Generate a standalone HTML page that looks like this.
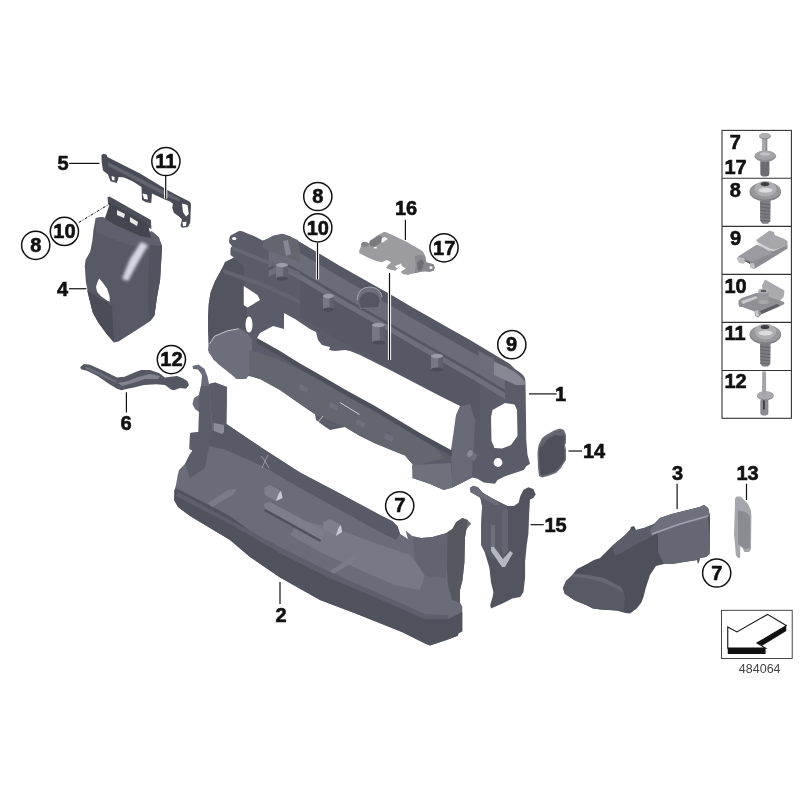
<!DOCTYPE html>
<html><head><meta charset="utf-8"><style>
html,body{margin:0;padding:0;background:#fff;width:800px;height:800px;overflow:hidden}
svg{display:block;will-change:transform}
</style></head><body><svg width="800" height="800" viewBox="0 0 800 800" font-family="Liberation Sans, sans-serif"><defs><filter id="b0" x="-50%" y="-50%" width="200%" height="200%"><feGaussianBlur stdDeviation="0.7"/></filter><filter id="b1" x="-50%" y="-50%" width="200%" height="200%"><feGaussianBlur stdDeviation="1.5"/></filter><filter id="b2" x="-50%" y="-50%" width="200%" height="200%"><feGaussianBlur stdDeviation="3"/></filter></defs><polygon points="192.50,366.00 198.50,364.50 204.50,369.00 207.50,376.50 209.00,384.00 215.00,382.50 227.00,387.00 226.50,424.00 262.00,448.00 300.00,472.50 340.00,493.50 380.00,515.00 392.50,521.25 397.50,526.25 400.00,533.75 408.00,539.00 405.60,530.60 412.50,536.25 421.25,538.10 432.50,536.90 441.25,534.40 447.50,533.10 451.90,533.75 452.50,528.75 456.25,521.90 462.50,518.10 467.50,520.00 471.25,523.75 468.75,526.25 466.25,530.00 465.00,537.50 464.40,562.50 462.50,580.00 460.00,590.00 460.00,602.75 462.25,606.50 462.25,631.25 458.50,633.50 457.75,635.75 448.00,639.50 430.00,645.50 425.00,643.50 402.50,632.25 380.00,623.25 357.50,614.25 320.00,600.00 280.00,577.50 250.00,557.00 230.00,540.00 220.00,534.00 205.00,525.00 190.00,516.00 178.00,507.00 174.00,500.00 174.50,490.00 176.00,485.00 177.50,476.00 179.00,470.00 185.00,464.00 189.50,455.00 192.50,450.50 189.50,449.00 190.00,433.00 198.50,432.00 199.00,412.00 195.00,409.00 192.50,404.00 194.00,398.00 199.00,395.00 201.00,386.00 202.00,375.00 198.00,369.50 193.00,369.00" fill="#6a6d79" /><polygon points="226.50,424.00 262.00,448.00 300.00,472.50 340.00,493.50 380.00,515.00 392.50,521.25 397.50,526.25 400.00,533.75 396.00,540.00 380.00,532.00 340.00,510.00 300.00,488.00 262.00,466.00 226.00,450.00 205.00,445.00 198.00,438.00" fill="#585b67" /><polygon points="300.00,520.00 340.00,530.00 380.00,545.00 410.00,555.00 425.00,575.00 420.00,590.00 395.00,585.00 360.00,570.00 320.00,552.00 290.00,535.00" fill="#777a86" /><polygon points="176.00,488.00 230.00,516.00 280.00,553.00 330.00,578.00 380.00,599.00 425.00,619.00 448.00,619.00 462.25,612.00 462.25,631.25 458.50,633.50 457.75,635.75 448.00,639.50 430.00,645.50 425.00,643.50 402.50,632.25 380.00,623.25 357.50,614.25 320.00,600.00 280.00,577.50 250.00,557.00 230.00,540.00 220.00,534.00 205.00,525.00 190.00,516.00 178.00,507.00 174.00,500.00 174.50,490.00" fill="#50535e" /><polygon points="209.00,384.00 215.00,382.50 227.00,387.00 226.25,424.50 224.00,430.50 213.50,427.50 212.00,420.00" fill="#5a5d69" /><polygon points="199.00,395.00 201.00,386.00 209.00,386.00 212.00,430.00 205.00,468.00 190.00,478.00 185.00,464.00 189.50,455.00 192.50,450.50 189.50,449.00 190.00,433.00 198.50,432.00 199.00,412.00" fill="#5b5e6a" /><polygon points="443.00,535.00 452.50,528.75 456.25,521.90 462.50,518.10 467.50,520.00 466.25,530.00 465.00,537.50 464.40,562.50 462.50,580.00 460.00,590.00 460.00,602.75 452.00,600.00 448.00,585.00 446.00,560.00" fill="#55585f" /><polygon points="412.50,536.25 421.25,538.10 432.50,536.90 441.25,534.40 447.50,533.10 447.00,560.00 446.00,578.00 425.00,576.00 415.00,560.00" fill="#626571" /><polygon points="213.50,423.00 224.00,425.00 224.00,432.00 222.00,434.00 214.00,431.00" fill="#8a8c98" /><polygon points="263.75,503.75 270.00,501.90 325.00,531.25 321.25,540.00 265.00,508.75" fill="#7c7f8b" /><polygon points="265.00,508.75 321.25,540.00 320.00,542.00 264.00,511.00" fill="#4f525d" /><polygon points="264.00,488.00 270.00,485.00 281.00,491.00 282.50,498.00 276.00,501.00 265.00,495.00" fill="#7e818d" /><polygon points="276.00,501.00 282.50,498.00 281.00,491.00 279.00,493.00 277.00,498.00" fill="#c9cbd3" /><polygon points="323.00,522.00 330.00,519.00 341.00,525.00 342.00,532.00 336.00,536.00 324.00,529.00" fill="#7e818d" /><polygon points="336.00,536.00 342.00,532.00 341.00,525.00 339.00,527.00 337.00,532.00" fill="#c9cbd3" /><polygon points="208.00,503.00 228.00,490.00 236.00,489.00 234.00,494.00 212.00,507.00" fill="#7a7d89" /><polygon points="330.00,571.00 350.00,558.00 356.00,557.00 354.00,562.00 333.00,574.00" fill="#7a7d89" /><path d="M261,456 L265,461 L262,468 M268,455 L265,461 L269,468" stroke="#a4a6b0" stroke-width="0.8" fill="none"/><polygon points="178.00,492.00 230.00,520.00 280.00,547.00 330.00,572.00 380.00,594.00 425.00,614.00 448.00,615.00 448.00,619.00 425.00,619.00 380.00,599.00 330.00,578.00 280.00,553.00 230.00,524.00 176.00,496.00" fill="#5d606c" /><polygon points="229.50,237.50 230.50,235.50 239.00,231.00 241.50,231.00 255.00,236.50 262.50,240.60 268.75,238.75 275.00,235.60 282.50,233.75 290.00,236.25 300.00,242.00 340.00,266.00 391.50,295.00 410.00,306.00 450.00,328.80 470.00,339.90 480.00,346.00 505.00,361.00 510.00,364.00 515.00,369.00 520.00,372.50 523.00,375.00 525.00,378.50 525.50,382.50 525.75,400.00 526.25,440.00 527.50,455.00 530.00,463.75 526.25,466.25 523.75,470.00 520.00,471.25 505.00,476.25 497.50,480.00 495.00,483.75 483.75,482.50 477.50,478.75 472.50,477.50 465.00,481.25 452.50,487.50 443.75,490.00 430.00,484.00 412.50,478.00 414.00,466.00 405.00,455.50 390.00,449.50 375.00,443.50 360.00,436.00 345.00,427.00 340.00,428.00 330.00,430.00 324.00,426.00 316.00,420.00 315.00,414.00 300.00,404.00 280.00,390.00 260.00,379.00 249.50,376.00 243.50,377.00 236.00,378.75 230.00,372.00 213.75,360.00 209.40,352.50 208.10,350.00 208.75,345.00 208.10,328.75 208.10,316.25 208.75,303.75 210.60,292.50 215.00,281.25 221.25,270.00 224.50,265.00 227.50,261.00 234.00,257.50 230.50,255.00 230.50,248.50 232.00,246.00 229.00,242.50" fill="#5a5d69" /><polygon points="268.75,239.25 275.00,236.10 282.50,234.25 290.00,236.75 300.00,242.50 340.00,266.50 391.50,295.50 410.00,306.50 450.00,329.30 470.00,340.40 480.00,346.50 505.00,361.50 505.00,372.00 480.00,357.00 470.00,350.90 450.00,339.80 410.00,317.00 391.50,306.00 340.00,277.00 300.00,253.00 290.00,247.25 282.50,244.75 275.00,246.60 268.75,249.75" fill="#565965" /><polygon points="268.75,249.75 275.00,246.60 282.50,244.75 290.00,247.25 300.00,253.00 340.00,277.00 391.50,306.00 410.00,317.00 450.00,339.80 470.00,350.90 480.00,357.00 505.00,372.00 505.00,390.00 480.00,375.00 470.00,368.90 450.00,357.80 410.00,335.00 391.50,324.00 340.00,295.00 300.00,271.00 290.00,265.25 282.50,262.75 275.00,264.60 268.75,267.75" fill="#6a6d79" /><polygon points="268.75,267.75 275.00,264.60 282.50,262.75 290.00,265.25 300.00,271.00 340.00,295.00 391.50,324.00 410.00,335.00 450.00,357.80 470.00,368.90 480.00,375.00 505.00,390.00 505.00,393.00 480.00,378.00 470.00,371.90 450.00,360.80 410.00,338.00 391.50,327.00 340.00,298.00 300.00,274.00 290.00,268.25 282.50,265.75 275.00,267.60 268.75,270.75" fill="#555864" /><polygon points="268.75,270.75 275.00,267.60 282.50,265.75 290.00,268.25 300.00,274.00 340.00,298.00 391.50,327.00 410.00,338.00 450.00,360.80 470.00,371.90 480.00,378.00 505.00,393.00 505.00,399.00 480.00,384.00 470.00,377.90 450.00,366.80 410.00,344.00 391.50,333.00 340.00,304.00 300.00,280.00 290.00,274.25 282.50,271.75 275.00,273.60 268.75,276.75" fill="#6d707c" /><polygon points="300.00,280.00 340.00,304.00 391.50,333.00 410.00,344.00 450.00,366.80 470.00,377.90 480.00,384.00 480.00,421.00 470.00,414.90 450.00,403.80 410.00,381.00 391.50,370.00 340.00,341.00 300.00,317.00" fill="#565965" /><polygon points="478.00,351.00 494.00,359.00 496.00,375.00 480.00,368.00" fill="#6c6f7b" /><polygon points="494.00,361.50 505.00,366.50 515.00,372.00 521.00,377.00 525.00,382.00 524.50,385.00 516.00,385.00 494.00,375.00" fill="#868894" /><polygon points="208.75,345.00 214.40,335.60 227.50,330.00 238.75,328.00 248.00,334.00 252.00,340.00 252.00,371.00 246.00,379.00 237.00,379.00 218.00,364.00 208.75,352.60" fill="#6c6f7b" /><polygon points="249.00,350.00 275.00,358.00 300.00,370.00 345.00,392.00 375.00,410.00 405.00,428.00 430.00,442.00 445.00,458.00 414.00,466.00 405.00,455.50 390.00,449.50 360.00,436.00 345.00,427.00 316.00,415.00 300.00,404.00 280.00,390.00 260.00,379.00 249.50,376.00" fill="#63666f" /><polygon points="460.00,406.00 470.00,404.00 475.00,420.00 472.00,476.00 465.00,481.25 452.50,487.50 452.00,470.00 451.00,452.50 452.50,435.00 456.00,415.00" fill="#686b77" /><polygon points="412.00,465.00 451.00,463.00 452.50,487.50 443.75,490.00 430.00,484.00 412.50,478.00" fill="#6e717c" /><polygon points="263.00,240.90 273.50,235.60 282.25,233.90 298.00,240.00 300.00,250.00 300.00,262.00 280.50,254.90 270.00,251.40 263.00,247.90" fill="#63666f" /><polygon points="283.00,241.00 288.00,240.00 291.00,254.00 286.00,256.00" fill="#858894" /><polygon points="232.00,246.00 262.00,258.00 300.00,272.00 300.00,276.00 262.00,262.00 232.00,250.00" fill="#666975" /><polygon points="225.00,262.00 234.00,258.00 244.00,266.00 244.00,286.00 243.75,305.00 247.00,309.00 247.00,330.00 238.75,328.00 227.50,330.00 214.40,335.60 208.75,345.00 208.10,328.75 208.10,316.25 208.75,303.75 210.60,292.50 215.00,281.25 221.25,270.00" fill="#52555f" /><polygon points="223.00,269.00 262.00,282.00 300.00,300.00 300.00,304.00 262.00,287.00 223.00,273.00" fill="#62656f" /><rect x="276" y="265" width="12" height="14" fill="#767985"/><rect x="283.2" y="265" width="4.800000000000001" height="14" fill="#5f626e"/><ellipse cx="282.0" cy="278.5" rx="6.0" ry="2" fill="#4a4d57"/><ellipse cx="282.0" cy="265" rx="6.0" ry="2.2" fill="#9a9ca7"/><rect x="323" y="296" width="11" height="14" fill="#767985"/><rect x="329.6" y="296" width="4.4" height="14" fill="#5f626e"/><ellipse cx="328.5" cy="309.5" rx="5.5" ry="2" fill="#4a4d57"/><ellipse cx="328.5" cy="296" rx="5.5" ry="2.2" fill="#9a9ca7"/><rect x="372" y="325" width="13" height="18" fill="#767985"/><rect x="379.8" y="325" width="5.2" height="18" fill="#5f626e"/><ellipse cx="378.5" cy="342.5" rx="6.5" ry="2" fill="#4a4d57"/><ellipse cx="378.5" cy="325" rx="6.5" ry="2.2" fill="#9a9ca7"/><rect x="431" y="356" width="12" height="14" fill="#767985"/><rect x="438.2" y="356" width="4.800000000000001" height="14" fill="#5f626e"/><ellipse cx="437.0" cy="369.5" rx="6.0" ry="2" fill="#4a4d57"/><ellipse cx="437.0" cy="356" rx="6.0" ry="2.2" fill="#9a9ca7"/><path d="M357,300 Q358,287 370,287 Q381,288 382,297 L380,308 L360,309 Z" fill="#6e717d"/><path d="M359,302 Q360,292 370,292 Q379,293 380,301 L378,307 L361,308 Z" fill="#545763"/><path d="M357,300 Q358,287 370,287 Q381,288 382,297" fill="none" stroke="#b0b2bb" stroke-width="0.8"/><polygon points="257.00,337.00 280.00,350.00 300.00,362.50 315.00,371.00 345.00,388.50 375.00,405.00 405.00,423.00 420.00,432.00 452.00,450.00 452.00,456.50 420.00,438.50 405.00,429.50 375.00,411.50 345.00,395.00 315.00,377.50 300.00,369.00 280.00,356.50 257.00,343.50" fill="#4d505b" /><line x1="340" y1="402.5" x2="359.5" y2="414.5" stroke="#d8dae2" stroke-width="0.9"/><line x1="318" y1="422" x2="323" y2="416" stroke="#c8cad2" stroke-width="0.9"/><polygon points="300.00,384.00 308.00,388.00 307.00,393.00 299.00,389.00" fill="#6e717d" /><polygon points="330.00,402.00 338.00,406.00 337.00,411.00 329.00,407.00" fill="#6e717d" /><polygon points="357.00,419.00 365.00,423.00 364.00,428.00 356.00,424.00" fill="#6e717d" /><polygon points="385.00,433.00 393.00,437.00 392.00,442.00 384.00,438.00" fill="#6e717d" /><polygon points="257.00,338.00 260.00,333.00 273.00,326.00 284.00,329.00 284.00,313.00 295.00,319.00 310.00,329.00 316.00,332.00 318.00,340.00 322.00,345.00 330.00,347.00 329.00,350.00 335.00,351.00 345.00,350.00 350.00,351.00 360.00,355.00 370.00,360.00 380.00,365.00 390.00,370.00 415.00,383.00 440.00,396.00 460.00,406.00 456.00,415.00 452.50,440.00 451.00,450.00 420.00,433.00 405.00,424.00 375.00,406.00 345.00,389.50 315.00,372.00 300.00,363.50 280.00,351.00" fill="#fff" /><polygon points="243.75,286.00 257.50,295.00 260.00,300.00 247.50,307.50 243.75,305.00" fill="#fff" /><polygon points="492.50,410.00 505.00,403.00 514.50,404.50 517.00,410.00 517.50,436.00 511.00,445.00 502.00,448.50 494.50,448.00 491.50,441.00 491.00,417.50" fill="#fff" /><polyline points="209.5,344 214.6,336.2 227.5,330.8 238.5,328.8" fill="none" stroke="#c4c6d0" stroke-width="1"/><rect x="468" y="452" width="9" height="7" fill="#6e717d" transform="rotate(30 472 455)"/><ellipse cx="470" cy="453.5" rx="2.5" ry="3.5" fill="#8a8d99" transform="rotate(30 470 453.5)"/><ellipse cx="249" cy="324.5" rx="3.5" ry="8" fill="#fff"/><circle cx="498" cy="462.5" r="4.4" fill="#fff"/><ellipse cx="234.2" cy="238.5" rx="2.2" ry="1.6" fill="#fff"/><polygon points="95.75,218.00 102.50,217.00 113.75,221.50 140.75,232.75 152.00,231.60 158.75,237.25 162.10,246.25 161.00,265.00 160.10,280.00 156.75,298.75 154.50,315.60 150.00,321.25 134.25,331.40 118.50,341.50 114.00,342.60 107.25,334.75 98.25,322.40 92.60,312.25 89.25,298.75 85.90,281.90 84.75,265.00 84.50,268.75 85.60,259.75 90.10,251.90 92.40,240.60 93.50,229.40" fill="#575a66" /><polygon points="95.75,218.00 102.50,217.00 113.75,221.50 140.75,232.75 152.00,231.60 158.75,237.25 162.10,246.25 150.00,250.00 130.00,245.00 110.00,238.00 96.00,232.00" fill="#5e616d" /><polygon points="150.00,245.00 162.10,246.25 161.00,265.00 160.10,280.00 156.75,298.75 154.50,315.60 150.00,321.25 148.00,300.00 149.00,270.00" fill="#51545f" /><polygon points="87.00,290.00 97.00,297.00 107.00,302.00 112.00,306.00 114.00,342.60 107.25,334.75 98.25,322.40 92.60,312.25 89.25,298.75" fill="#4a4d57" /><polygon points="107.60,197.30 109.50,196.50 150.90,220.00 151.40,229.00 147.00,227.00 108.00,204.00" fill="#4c4f59" /><polygon points="110.00,203.00 148.00,224.00 151.00,238.00 140.00,236.00 113.00,224.00 105.00,218.00" fill="#44464f" /><polygon points="99.20,278.60 102.60,282.40 107.00,288.60 109.50,296.10 109.80,301.75 107.00,300.50 100.75,296.10 97.00,291.75 96.00,286.75 97.60,281.75" fill="#fff" /><polygon points="141.00,242.00 148.00,245.00 136.00,266.00 128.00,281.00 122.00,279.00 130.00,259.00" fill="#d4d6e2" filter="url(#b1)"/><polygon points="117.00,210.00 125.00,214.00 124.00,218.00 117.00,215.00" fill="#e8e8ea" /><polygon points="130.00,217.00 138.00,222.00 137.00,226.00 130.00,222.00" fill="#e8e8ea" /><polygon points="101.40,155.00 103.60,153.75 106.75,154.70 107.40,156.90 140.00,173.40 167.75,190.25 177.50,195.50 189.50,201.50 191.00,203.75 190.25,222.50 188.00,227.00 182.00,227.75 180.50,225.50 182.00,219.50 179.00,216.50 173.75,212.75 172.25,207.50 173.00,203.75 170.00,201.50 164.75,199.50 152.00,193.50 151.25,203.00 146.00,202.25 142.00,200.00 141.50,187.00 133.00,181.60 124.25,177.50 118.60,177.00 118.00,179.40 116.75,183.10 110.50,181.25 109.25,178.00 108.00,174.40 103.00,170.60 101.75,162.50" fill="#494c56" /><polygon points="108.00,162.00 140.00,178.50 168.00,193.00 180.00,199.00 179.00,201.50 166.00,196.00 139.00,182.00 108.00,166.00" fill="#62656f" /><polygon points="182.00,203.50 187.50,205.00 188.75,214.00 186.00,216.50 183.00,212.00" fill="#fff" /><polygon points="182.50,222.00 186.50,221.75 186.00,226.00 183.00,226.30" fill="#fff" /><polygon points="142.50,193.50 147.00,194.50 148.00,199.50 144.00,199.00" fill="#fff" /><polygon points="111.50,176.00 114.50,177.00 114.50,180.50 112.00,180.00" fill="#fff" /><polygon points="80.25,367.00 84.00,364.00 90.00,364.75 105.00,371.50 117.00,377.50 124.50,376.75 135.00,372.25 141.00,370.00 150.00,370.00 159.00,373.00 165.00,377.50 177.00,376.00 183.00,378.25 187.50,381.25 189.00,385.00 186.00,388.75 180.00,388.00 174.00,390.25 171.00,389.50 165.00,385.00 156.00,384.25 144.00,385.00 135.00,387.25 127.50,388.75 121.50,390.25 117.00,388.75 109.50,384.25 97.50,376.00 87.00,370.75 81.00,369.25" fill="#555862" /><polygon points="86.00,366.50 100.00,372.50 117.00,381.00 116.00,383.00 99.00,375.00 85.00,368.50" fill="#6a6d78" /><polygon points="118.00,383.00 128.00,381.00 138.00,377.00 150.00,374.00 160.00,376.00 158.00,379.00 145.00,379.00 133.00,383.00 122.00,386.00" fill="#80838f" /><polygon points="359.25,250.50 361.40,245.20 364.60,242.50 370.00,243.60 371.00,241.00 376.25,236.20 383.70,231.90 385.80,231.90 405.00,241.00 414.50,246.25 423.00,251.50 425.10,255.80 426.20,262.20 429.40,263.25 433.60,264.30 434.70,267.50 433.60,270.70 429.40,271.75 425.10,271.20 420.90,271.75 414.50,273.35 410.30,273.90 408.10,275.00 402.80,273.90 400.70,271.75 406.00,268.60 400.70,265.40 395.40,270.70 387.90,269.10 385.80,267.50 391.10,262.20 386.90,260.10 381.60,262.20 376.25,261.10 368.80,257.90 362.40,254.75 359.25,253.20" fill="#9b9ba0" /><ellipse cx="364.8" cy="244.3" rx="3.8" ry="2.6" fill="#85858b"/><polygon points="369.75,240.65 379.10,235.15 382.40,237.35 381.30,242.30 374.70,246.70 370.85,246.15 369.20,244.50" fill="#7a7a80" /><polygon points="381.85,237.90 385.15,237.10 387.90,239.00 382.40,242.85 381.30,242.30" fill="#f2f2f2" /><polygon points="373.60,247.25 376.90,246.80 376.50,248.40 373.80,248.60" fill="#f2f2f2" /><polygon points="414.50,256.00 421.00,254.75 425.00,255.80 426.20,262.20 429.40,263.25 433.60,264.30 434.70,267.50 433.60,270.70 429.40,271.75 425.10,271.20 420.90,271.75 414.50,273.35 416.00,265.00" fill="#88888e" /><polygon points="417.00,263.00 421.00,259.00 424.00,262.00 422.00,270.00 418.00,271.00" fill="#6e6e74" /><circle cx="431" cy="267.6" r="1.5" fill="#f0f0f0"/><polygon points="395.00,266.00 401.00,263.50 402.00,265.50 396.50,268.50" fill="#f2f2f2" /><polygon points="539.00,444.00 542.00,438.00 546.00,435.00 555.00,430.00 560.00,428.50 564.00,430.00 566.00,435.00 566.00,443.00 565.00,445.00 566.00,450.00 566.00,460.00 564.00,463.00 561.00,468.00 556.00,473.00 548.00,476.00 542.00,477.50 539.00,476.00 538.00,468.00 537.50,453.00 538.00,448.00" fill="#6a6d78" /><polygon points="540.50,446.00 543.50,440.00 547.00,437.50 555.50,432.50 560.00,431.00 563.00,432.50 564.50,436.00 564.50,443.00 563.50,445.50 564.50,450.00 564.50,459.50 562.50,462.50 559.50,467.00 555.00,471.50 548.00,474.00 542.50,475.50 540.50,474.00 539.50,467.00 539.00,453.00 539.50,448.00" fill="#4d505a" /><polygon points="540.00,446.00 543.00,440.00 547.00,437.00 556.00,432.00 561.00,431.00 564.00,433.00 563.00,436.00 555.00,435.00 547.00,440.00 542.00,447.00" fill="#61646f" /><polygon points="469.90,488.10 473.10,485.70 478.00,487.30 482.90,493.00 494.25,499.50 502.40,503.60 507.25,506.00 513.75,506.00 518.60,502.75 520.25,496.25 523.50,489.75 528.40,487.30 533.25,488.90 535.70,494.60 533.25,497.90 530.00,499.50 529.20,512.50 528.40,533.60 526.75,545.00 525.10,561.25 525.10,577.50 523.50,592.10 520.25,597.00 512.10,598.60 502.40,603.50 491.00,608.40 490.20,605.10 492.60,597.00 493.40,592.10 491.00,582.40 489.40,567.75 484.50,551.50 481.25,545.00 481.25,525.50 482.10,506.00 480.40,497.90 474.75,494.60 470.70,492.20" fill="#52555f" /><polygon points="482.90,493.00 494.25,499.50 502.40,503.60 507.25,506.00 505.00,540.00 500.00,555.00 492.00,560.00 484.50,551.50 481.25,545.00 481.25,525.50 482.10,506.00 480.40,497.90" fill="#5b5e6a" /><polygon points="469.90,488.10 473.10,485.70 478.00,487.30 482.90,493.00 494.25,499.50 500.00,505.00 495.00,505.00 482.00,498.00 474.75,494.60 470.70,492.20" fill="#6a6d79" /><polygon points="491.00,525.00 495.00,525.00 495.00,547.00 491.00,547.00" fill="#6e717d" /><polygon points="502.00,510.00 508.00,510.00 508.00,551.00 503.00,558.00 502.00,550.00" fill="#62656f" /><polygon points="491.00,547.00 494.00,547.00 503.00,559.00 510.00,551.00 513.00,553.00 505.00,567.00 502.00,567.00 491.00,551.00" fill="#b4b6c0" filter="url(#b0)"/><polygon points="563.00,588.00 566.00,581.00 572.60,574.60 577.00,569.00 586.00,564.50 594.00,560.00 600.00,558.00 612.00,546.00 624.00,536.00 630.00,530.00 631.00,527.00 634.00,526.00 636.00,530.00 644.00,528.00 654.00,524.00 660.00,518.00 672.00,514.00 688.00,510.00 700.00,507.00 704.00,505.00 708.00,508.00 710.00,516.00 710.00,540.00 709.60,554.00 706.00,557.00 700.00,558.00 699.00,562.00 698.00,564.00 697.00,560.00 684.00,562.00 672.00,564.00 664.00,564.00 656.00,566.00 650.00,575.00 645.75,588.00 643.50,597.00 641.25,602.75 636.70,608.40 630.00,613.40 625.50,612.90 616.50,610.60 608.60,610.00 600.75,609.50 593.00,608.40 586.00,605.00 574.90,600.50 564.75,593.75" fill="#4d505a" /><polygon points="612.00,546.00 624.00,536.00 630.00,530.00 636.00,530.00 644.00,528.00 654.00,524.00 660.00,518.00 672.00,514.00 688.00,510.00 700.00,507.00 704.00,505.00 708.00,508.00 710.00,516.00 700.00,520.00 680.00,526.00 660.00,532.00 645.00,540.00 630.00,548.00 615.00,556.00" fill="#5b5e6a" /><polygon points="658.00,532.00 708.00,516.00 710.00,540.00 709.60,554.00 706.00,557.00 700.00,558.00 697.00,560.00 684.00,562.00 672.00,564.00 664.00,564.00 658.00,552.00" fill="#656874" /><polygon points="650.00,530.00 660.00,518.00 672.00,514.00 688.00,510.00 700.00,507.00 704.00,505.00 708.00,508.00 710.00,516.00 700.00,520.00 680.00,525.00 660.00,532.00 652.00,536.00" fill="#6e717d" /><polygon points="573.00,575.00 586.00,576.00 602.00,580.00 620.00,588.00 625.00,596.00 624.00,610.00 616.50,610.60 608.60,610.00 600.75,609.50 593.00,608.40 586.00,605.00 574.90,600.50 564.75,593.75 563.00,588.00 566.00,581.00" fill="#575a65" /><polygon points="573.00,574.00 586.00,574.50 604.00,578.00 621.00,587.00 624.00,593.00 618.00,589.00 602.00,582.00 586.00,578.00 573.00,577.00" fill="#656873" /><polyline points="652,534 680,524 708,516" fill="none" stroke="#9fa1b0" stroke-width="1.6" filter="url(#b0)"/><polygon points="735.00,498.40 736.90,496.60 740.60,496.60 748.10,504.00 751.00,510.60 751.40,516.25 751.00,549.00 749.00,551.90 744.40,551.90 742.50,548.10 740.20,546.25 740.20,557.50 738.75,558.40 735.90,555.60 735.00,544.40 734.00,535.00 734.50,518.10 735.00,504.00" fill="#a6a7ac" /><polygon points="737.80,510.60 746.00,512.00 750.00,516.00 750.00,548.00 745.00,549.00 738.00,544.00" fill="#8b8c92" /><rect x="722" y="130.4" width="69.4" height="287.9" fill="none" stroke="#333" stroke-width="1.1"/><line x1="722" y1="178.3" x2="791.4" y2="178.3" stroke="#333" stroke-width="1.1"/><line x1="722" y1="226.4" x2="791.4" y2="226.4" stroke="#333" stroke-width="1.1"/><line x1="722" y1="274.4" x2="791.4" y2="274.4" stroke="#333" stroke-width="1.1"/><line x1="722" y1="322.4" x2="791.4" y2="322.4" stroke="#333" stroke-width="1.1"/><line x1="722" y1="370.5" x2="791.4" y2="370.5" stroke="#333" stroke-width="1.1"/><rect x="760.3" y="159" width="9.1" height="17.5" rx="3.5" fill="#6c6c72"/><rect x="761.9" y="138" width="5.3" height="16" fill="#a8a8ad"/><rect x="765.5" y="138" width="1.7" height="16" fill="#8a8a90"/><ellipse cx="765.3" cy="156.3" rx="10.8" ry="5.6" fill="#8e8e93"/><ellipse cx="765.3" cy="155.2" rx="10.2" ry="4.6" fill="#a3a3a8"/><ellipse cx="765" cy="154" rx="5" ry="1.6" fill="#c5c5c9"/><ellipse cx="765" cy="136.2" rx="5.9" ry="3.2" fill="#8f8f94"/><ellipse cx="765" cy="135.6" rx="5.6" ry="2.6" fill="#b0b0b4"/><path d="M760,200.7 L770.6,200.7 L770.3,220.7 L768,223.7 L762.5,223.7 L760.2,220.7 Z" fill="#7c7c82"/><line x1="760.3" y1="203.7" x2="770.3" y2="204.89999999999998" stroke="#5e5e64" stroke-width="0.8"/><line x1="760.3" y1="207.0" x2="770.3" y2="208.2" stroke="#5e5e64" stroke-width="0.8"/><line x1="760.3" y1="210.29999999999998" x2="770.3" y2="211.49999999999997" stroke="#5e5e64" stroke-width="0.8"/><line x1="760.3" y1="213.6" x2="770.3" y2="214.79999999999998" stroke="#5e5e64" stroke-width="0.8"/><line x1="760.3" y1="216.89999999999998" x2="770.3" y2="218.09999999999997" stroke="#5e5e64" stroke-width="0.8"/><line x1="760.3" y1="220.2" x2="770.3" y2="221.39999999999998" stroke="#5e5e64" stroke-width="0.8"/><ellipse cx="765.3" cy="191.7" rx="15.8" ry="9.6" fill="#7e7e84"/><ellipse cx="765.3" cy="190.89999999999998" rx="15.2" ry="8.6" fill="#97979c"/><ellipse cx="765.5" cy="188.7" rx="10.8" ry="7.8" fill="#aeaeb3"/><ellipse cx="765.5" cy="190.2" rx="7" ry="2.5" fill="#dcdcdf"/><ellipse cx="765" cy="184.1" rx="4.4" ry="2.1" fill="#3e3e42"/><path d="M760,343.6 L770.6,343.6 L770.3,363.6 L768,366.6 L762.5,366.6 L760.2,363.6 Z" fill="#7c7c82"/><line x1="760.3" y1="346.6" x2="770.3" y2="347.8" stroke="#5e5e64" stroke-width="0.8"/><line x1="760.3" y1="349.90000000000003" x2="770.3" y2="351.1" stroke="#5e5e64" stroke-width="0.8"/><line x1="760.3" y1="353.20000000000005" x2="770.3" y2="354.40000000000003" stroke="#5e5e64" stroke-width="0.8"/><line x1="760.3" y1="356.5" x2="770.3" y2="357.7" stroke="#5e5e64" stroke-width="0.8"/><line x1="760.3" y1="359.8" x2="770.3" y2="361.0" stroke="#5e5e64" stroke-width="0.8"/><line x1="760.3" y1="363.1" x2="770.3" y2="364.3" stroke="#5e5e64" stroke-width="0.8"/><ellipse cx="765.3" cy="334.6" rx="15.8" ry="9.6" fill="#7e7e84"/><ellipse cx="765.3" cy="333.8" rx="15.2" ry="8.6" fill="#97979c"/><ellipse cx="765.5" cy="331.6" rx="10.8" ry="7.8" fill="#aeaeb3"/><ellipse cx="765.5" cy="333.1" rx="7" ry="2.5" fill="#dcdcdf"/><ellipse cx="765" cy="327.0" rx="4.4" ry="2.1" fill="#3e3e42"/><polygon points="738.00,256.75 756.75,244.75 768.00,249.25 774.00,250.75 787.50,244.75 787.50,248.50 769.50,259.75 754.50,268.75 750.75,268.00 750.00,263.50 745.50,261.25 743.25,263.50 739.50,262.75 737.25,259.00" fill="#8c8c92" /><polygon points="738.00,256.75 756.75,244.75 768.00,249.25 774.00,250.75 770.00,254.00 752.00,262.00 744.00,258.00" fill="#9a9aa0" /><polygon points="756.00,240.25 769.50,230.50 774.00,232.00 774.75,235.00 780.00,237.25 783.75,238.75 787.50,241.00 787.50,245.50 774.00,250.00 769.50,250.00 758.25,242.50" fill="#a6a6ab" /><polygon points="758.00,242.00 770.00,248.50 774.00,249.50 774.00,251.00 768.00,250.50 757.00,243.50" fill="#d0d0d4" /><polygon points="738.00,257.00 744.00,258.00 745.50,261.25 743.25,263.50 739.50,262.75 737.25,259.00" fill="#c0c0c4" /><polygon points="750.00,263.50 754.00,263.00 755.00,268.00 750.75,268.00" fill="#c0c0c4" /><polygon points="743.50,260.00 750.00,262.00 750.00,264.00 745.50,261.50" fill="#555559" /><polygon points="762.00,285.25 765.00,279.60 784.50,290.50 783.75,296.50 780.00,301.00 774.00,302.50 763.50,296.50" fill="#a9a9ae" /><polygon points="738.75,300.25 741.75,298.00 756.75,292.75 774.00,298.75 783.75,301.75 784.50,304.00 777.00,307.75 762.00,313.75 758.25,317.50 755.25,316.00 754.50,311.50 742.50,307.00 739.50,307.00 738.40,304.00" fill="#8f8f95" /><polygon points="741.00,301.00 756.00,296.00 758.00,298.00 743.00,304.00" fill="#c8c8cc" /><polygon points="755.00,311.00 758.00,310.00 759.00,316.00 756.00,316.50" fill="#c8c8cc" /><polygon points="760.00,311.00 777.00,304.00 780.00,305.50 762.00,314.00" fill="#5c5c62" /><rect x="758.3" y="291" width="10.4" height="11" fill="#97979c"/><ellipse cx="763.5" cy="302" rx="5.2" ry="2" fill="#a7a7ac"/><ellipse cx="763.5" cy="291" rx="5.2" ry="2.4" fill="#b4b4b8"/><ellipse cx="763.5" cy="291" rx="3" ry="1.3" fill="#5a5a5f"/><rect x="760.3" y="398.5" width="8.1" height="17" rx="3" fill="#8a8a90"/><rect x="763" y="400" width="1.8" height="9.5" fill="#3e3e42"/><rect x="762.2" y="371.5" width="3.9" height="23" fill="#a2a2a7"/><ellipse cx="765.4" cy="395.8" rx="8.45" ry="4.6" fill="#8e8e94"/><ellipse cx="765.4" cy="395.2" rx="8" ry="3.8" fill="#aaaaaf"/><rect x="762.4" y="385" width="3.5" height="10" fill="#a2a2a7"/><rect x="721.5" y="610.3" width="70.7" height="48.2" fill="none" stroke="#333" stroke-width="0.9"/><polygon points="727.75,626.90 736.90,631.90 767.50,614.40 786.25,625.60 756.90,643.10 765.60,648.10 727.75,648.10" fill="#fff" stroke="#111" stroke-width="1.1" stroke-linejoin="miter"/><polygon points="727.75,648.10 765.60,648.10 765.60,654.00 727.75,654.00" fill="#111" /><polygon points="756.90,643.10 786.25,625.60 786.25,631.00 762.50,645.50" fill="#111" /><line x1="69.1" y1="163.4" x2="99.5" y2="163.4" stroke="#111" stroke-width="1.2"/><line x1="69.1" y1="288.75" x2="86.5" y2="288.75" stroke="#111" stroke-width="1.2"/><line x1="126.4" y1="392.2" x2="126.4" y2="412.5" stroke="#111" stroke-width="1.2"/><line x1="317.5" y1="243" x2="317.5" y2="279.5" stroke="#fff" stroke-width="3.2"/><line x1="317.5" y1="243" x2="317.5" y2="279.5" stroke="#111" stroke-width="1.2"/><line x1="405.4" y1="219.7" x2="405.4" y2="240" stroke="#111" stroke-width="1.2"/><line x1="389.5" y1="273" x2="389.5" y2="360" stroke="#fff" stroke-width="3.2"/><line x1="389.5" y1="273" x2="389.5" y2="360" stroke="#111" stroke-width="1.2"/><line x1="529" y1="393.9" x2="556.6" y2="393.9" stroke="#111" stroke-width="1.2"/><line x1="568.5" y1="451" x2="582" y2="451" stroke="#111" stroke-width="1.2"/><line x1="530.6" y1="524.7" x2="543.75" y2="524.7" stroke="#111" stroke-width="1.2"/><line x1="280" y1="582" x2="280" y2="604" stroke="#111" stroke-width="1.2"/><line x1="677.1" y1="483.75" x2="677.1" y2="509" stroke="#111" stroke-width="1.2"/><line x1="746.5" y1="483.75" x2="746.5" y2="500" stroke="#111" stroke-width="1.2"/><line x1="165.7" y1="176" x2="165.7" y2="198.5" stroke="#fff" stroke-width="3.2"/><line x1="165.7" y1="176" x2="165.7" y2="198.5" stroke="#111" stroke-width="1.2"/><line x1="78.75" y1="222.5" x2="110" y2="203.75" stroke="#111" stroke-width="1" stroke-dasharray="3 1.5 1 1.5"/><circle cx="165.9" cy="161.5" r="14.1" fill="#fff" stroke="#111" stroke-width="1.5"/><circle cx="64.4" cy="231.4" r="14.1" fill="#fff" stroke="#111" stroke-width="1.5"/><circle cx="35.7" cy="245.3" r="14.1" fill="#fff" stroke="#111" stroke-width="1.5"/><circle cx="171.4" cy="359.6" r="14.1" fill="#fff" stroke="#111" stroke-width="1.5"/><circle cx="317.8" cy="196.5" r="14.1" fill="#fff" stroke="#111" stroke-width="1.5"/><circle cx="317.8" cy="227.8" r="14.1" fill="#fff" stroke="#111" stroke-width="1.5"/><circle cx="444" cy="247.8" r="14.1" fill="#fff" stroke="#111" stroke-width="1.5"/><circle cx="511.8" cy="344.7" r="14.1" fill="#fff" stroke="#111" stroke-width="1.5"/><circle cx="399.7" cy="505.75" r="14.1" fill="#fff" stroke="#111" stroke-width="1.5"/><circle cx="716.7" cy="573" r="14.1" fill="#fff" stroke="#111" stroke-width="1.5"/><text x="165.9" y="168.2" font-size="20" font-weight="bold" text-anchor="middle" fill="#111" stroke="#111" stroke-width="0.6">11</text><text x="64.4" y="238.1" font-size="20" font-weight="bold" text-anchor="middle" fill="#111" stroke="#111" stroke-width="0.6">10</text><text x="35.7" y="252.0" font-size="20" font-weight="bold" text-anchor="middle" fill="#111" stroke="#111" stroke-width="0.6">8</text><text x="171.4" y="366.3" font-size="20" font-weight="bold" text-anchor="middle" fill="#111" stroke="#111" stroke-width="0.6">12</text><text x="317.8" y="203.2" font-size="20" font-weight="bold" text-anchor="middle" fill="#111" stroke="#111" stroke-width="0.6">8</text><text x="317.8" y="234.5" font-size="20" font-weight="bold" text-anchor="middle" fill="#111" stroke="#111" stroke-width="0.6">10</text><text x="444.2" y="254.5" font-size="20" font-weight="bold" text-anchor="middle" fill="#111" stroke="#111" stroke-width="0.6">17</text><text x="511.6" y="351.4" font-size="20" font-weight="bold" text-anchor="middle" fill="#111" stroke="#111" stroke-width="0.6">9</text><text x="399.7" y="512.45" font-size="20" font-weight="bold" text-anchor="middle" fill="#111" stroke="#111" stroke-width="0.6">7</text><text x="716.7" y="579.7" font-size="20" font-weight="bold" text-anchor="middle" fill="#111" stroke="#111" stroke-width="0.6">7</text><text x="63" y="170.3" font-size="20" font-weight="bold" text-anchor="middle" fill="#111" stroke="#111" stroke-width="0.6">5</text><text x="62.5" y="296" font-size="20" font-weight="bold" text-anchor="middle" fill="#111" stroke="#111" stroke-width="0.6">4</text><text x="126" y="430" font-size="20" font-weight="bold" text-anchor="middle" fill="#111" stroke="#111" stroke-width="0.6">6</text><text x="406" y="215.4" font-size="20" font-weight="bold" text-anchor="middle" fill="#111" stroke="#111" stroke-width="0.6">16</text><text x="560.5" y="401" font-size="20" font-weight="bold" text-anchor="middle" fill="#111" stroke="#111" stroke-width="0.6">1</text><text x="594" y="457.8" font-size="20" font-weight="bold" text-anchor="middle" fill="#111" stroke="#111" stroke-width="0.6">14</text><text x="555.6" y="532" font-size="20" font-weight="bold" text-anchor="middle" fill="#111" stroke="#111" stroke-width="0.6">15</text><text x="281" y="622" font-size="20" font-weight="bold" text-anchor="middle" fill="#111" stroke="#111" stroke-width="0.6">2</text><text x="677.5" y="480" font-size="20" font-weight="bold" text-anchor="middle" fill="#111" stroke="#111" stroke-width="0.6">3</text><text x="747.5" y="480" font-size="20" font-weight="bold" text-anchor="middle" fill="#111" stroke="#111" stroke-width="0.6">13</text><text x="735.4" y="148.5" font-size="20" font-weight="bold" text-anchor="middle" fill="#111" stroke="#111" stroke-width="0.6">7</text><text x="735.5" y="173.5" font-size="20" font-weight="bold" text-anchor="middle" fill="#111" stroke="#111" stroke-width="0.6">17</text><text x="735.4" y="196.5" font-size="20" font-weight="bold" text-anchor="middle" fill="#111" stroke="#111" stroke-width="0.6">8</text><text x="735.5" y="244.8" font-size="20" font-weight="bold" text-anchor="middle" fill="#111" stroke="#111" stroke-width="0.6">9</text><text x="735.5" y="292.8" font-size="20" font-weight="bold" text-anchor="middle" fill="#111" stroke="#111" stroke-width="0.6">10</text><text x="735" y="340.3" font-size="20" font-weight="bold" text-anchor="middle" fill="#111" stroke="#111" stroke-width="0.6">11</text><text x="735.6" y="388.3" font-size="20" font-weight="bold" text-anchor="middle" fill="#111" stroke="#111" stroke-width="0.6">12</text><text x="759.7" y="673.1" font-size="12.5" font-weight="normal" text-anchor="middle" fill="#444">484064</text></svg></body></html>
